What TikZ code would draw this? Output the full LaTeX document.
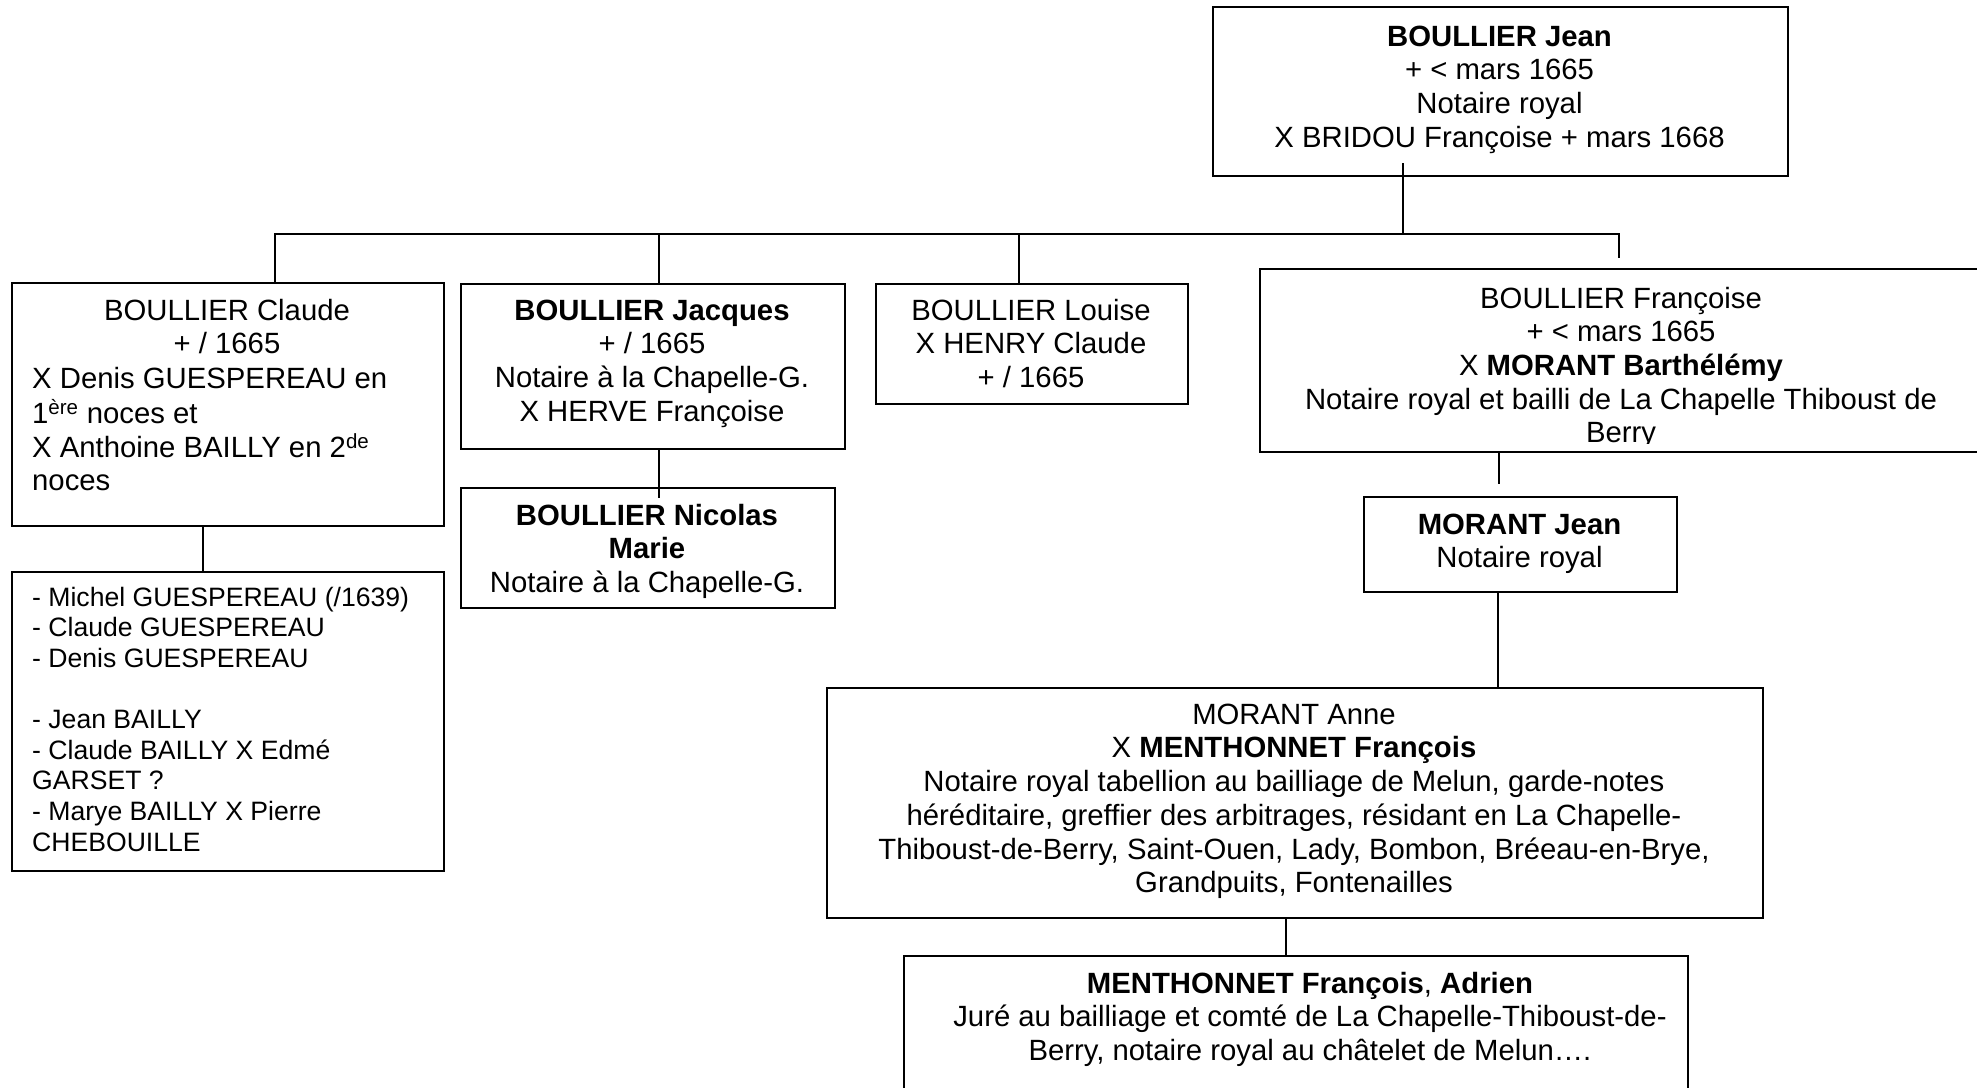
\documentclass[tikz,border=0pt]{standalone}
\usepackage{fontspec}
\setmainfont{Liberation Sans}
\usetikzlibrary{calc}
\tikzset{
  box/.style={draw, line width=1.8pt, inner sep=0pt, anchor=north west},
  conn/.style={line width=1.5pt},
  txt/.style={inner sep=0pt, anchor=north, align=center, font=\fontsize{29.3pt}{33.7pt}\selectfont},
  txtl/.style={inner sep=0pt, anchor=north west, align=left, font=\fontsize{29.3pt}{33.7pt}\selectfont},
  small/.style={inner sep=0pt, anchor=north west, align=left, font=\fontsize{26.6pt}{30.6pt}\selectfont},
}
\begin{document}
\begin{tikzpicture}[x=1pt,y=-1pt]
\useasboundingbox (0,0) rectangle (1977,1087);
% boxes
\node[box, minimum width=575, minimum height=169] (jean) at (1212,6) {};
\node[box, minimum width=432, minimum height=243] (claude) at (11,282) {};
\node[box, minimum width=432, minimum height=299] (list) at (11,571) {};
\node[box, minimum width=384, minimum height=165] (jacques) at (460,283) {};
\node[box, minimum width=374, minimum height=120] (nicolas) at (460,487) {};
\node[box, minimum width=312, minimum height=120] (louise) at (875,283) {};
\node[box, minimum width=724, minimum height=183] (fran) at (1259,268) {};
\node[box, minimum width=313, minimum height=95] (mjean) at (1363,496) {};
\node[box, minimum width=936, minimum height=230] (anne) at (826,687) {};
\node[box, minimum width=784, minimum height=150] (adrien) at (903,955) {};
% texts
\node[txt] (jeanT) at (1499.5,22.4) {\strut\textbf{BOULLIER Jean}\\+ < mars 1665\\Notaire royal\\X BRIDOU Françoise + mars 1668};
\node[txt] (claudeT1) at (227,296.4) {\strut BOULLIER Claude\\+ / 1665};
\node[txtl] (claudeT2) at (32,364.4) {\strut X Denis GUESPEREAU en\\1\textsuperscript{ère} noces et\\X Anthoine BAILLY en 2\textsuperscript{de}\\noces};
\node[small] (listT) at (32,584.6) {\strut - Michel GUESPEREAU (/1639)\\- Claude GUESPEREAU\\- Denis GUESPEREAU\\\mbox{}\\- Jean BAILLY\\- Claude BAILLY X Edmé\\GARSET ?\\- Marye BAILLY X Pierre\\CHEBOUILLE};
\node[txt] (jacquesT) at (652,296.4) {\strut\textbf{BOULLIER Jacques}\\+ / 1665\\Notaire à la Chapelle-G.\\X HERVE Françoise};
\node[txt] (nicolasT) at (647,501.4) {\strut\textbf{BOULLIER Nicolas}\\\textbf{Marie}\\Notaire à la Chapelle-G.};
\node[txt] (louiseT) at (1031,296.4) {\strut BOULLIER Louise\\X HENRY Claude\\+ / 1665};
\begin{scope}
\clip (1259,268) rectangle (1983,443.5);
\node[txt] (franT) at (1621,284.4) {\strut BOULLIER Françoise\\+ < mars 1665\\X \textbf{MORANT Barthélémy}\\Notaire royal et bailli de La Chapelle Thiboust de\\Berry};
\end{scope}
\node[txt] (mjeanT) at (1519.5,510.4) {\strut\textbf{MORANT Jean}\\Notaire royal};
\node[txt] (anneT) at (1294,700.4) {\strut MORANT Anne\\X \textbf{MENTHONNET François}\\Notaire royal tabellion au bailliage de Melun, garde-notes\\héréditaire, greffier des arbitrages, résidant en La Chapelle-\\Thiboust-de-Berry, Saint-Ouen, Lady, Bombon, Bréeau-en-Brye,\\Grandpuits, Fontenailles};
\node[txt] (adrienT) at (1310,969.4) {\strut\textbf{MENTHONNET François}, \textbf{Adrien}\\Juré au bailliage et comté de La Chapelle-Thiboust-de-\\Berry, notaire royal au châtelet de Melun….};
% connectors
\coordinate (jstem) at (1403,163);
\coordinate (busJ) at (1403,234);
\coordinate (busL) at (275,234);
\coordinate (busR) at (1619,234);
\coordinate (sJac) at (659,234);
\coordinate (sLou) at (1019,234);
\coordinate (frEnd) at (1619,258);
\draw[conn] (jstem) -- (busJ);
\draw[conn] (claude.north -| busL) -- (busL) -- (busR) -- (frEnd);
\draw[conn] (sJac) -- (sJac |- jacques.north);
\draw[conn] (sLou) -- (sLou |- louise.north);
\coordinate (jnEnd) at (659,498);
\draw[conn] (jacques.south -| jnEnd) -- (jnEnd);
\coordinate (clx) at (203,0);
\draw[conn] (claude.south -| clx) -- (list.north -| clx);
\coordinate (fmEnd) at (1499,484);
\draw[conn] (fran.south -| fmEnd) -- (fmEnd);
\coordinate (max) at (1498,0);
\draw[conn] (mjean.south -| max) -- (anne.north -| max);
\coordinate (aax) at (1286,0);
\draw[conn] (anne.south -| aax) -- (adrien.north -| aax);
\end{tikzpicture}
\end{document}
